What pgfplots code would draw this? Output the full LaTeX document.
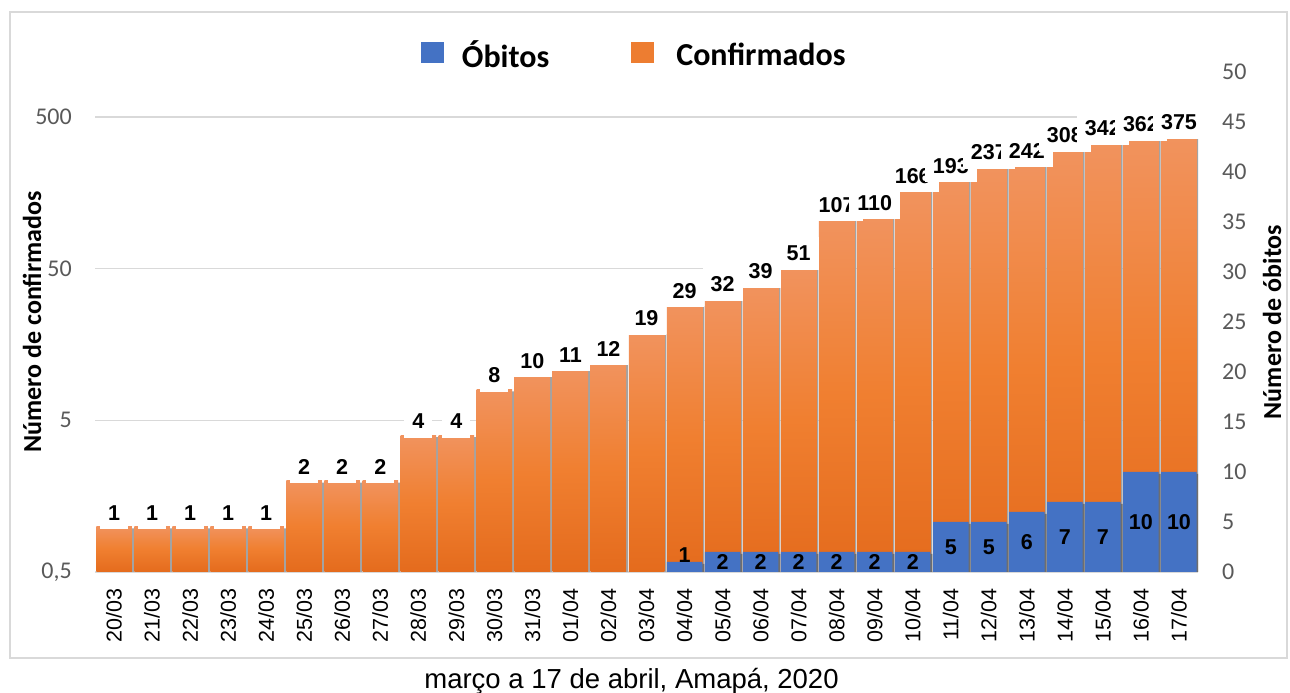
\documentclass[border=0pt]{standalone}
\usepackage{pgfplots}
\usepackage{pgfplotstable}
\pgfplotsset{compat=1.18}
\usepackage{fontspec}
\setmainfont{Liberation Sans}
\newfontfamily\carlito{Carlito}
\definecolor{obit}{HTML}{4472C4}
\definecolor{conf}{HTML}{ED7D31}
\definecolor{ctop}{HTML}{F1935E}
\definecolor{cmid}{HTML}{F07F30}
\definecolor{cbot}{HTML}{E46B1D}
\definecolor{gridc}{HTML}{D9D9D9}
\definecolor{tickc}{HTML}{595959}
\definecolor{shad}{HTML}{A3A3A3}
\definecolor{shadb}{HTML}{6E6E6E}

\pgfplotstableread{
x y lab
0 1 1
1 1 1
2 1 1
3 1 1
4 1 1
5 2 2
6 2 2
7 2 2
8 4 4
9 4 4
10 8 8
11 10 10
12 11 11
13 12 12
14 19 19
15 29 29
16 32 32
17 39 39
18 51 51
19 107 107
20 110 110
21 166 166
22 193 193
23 237 237
24 242 242
25 308 308
26 342 342
27 362 362
28 375 375
}\confdata

\pgfplotstableread{
x y lab
15 1 1
16 2 2
17 2 2
18 2 2
19 2 2
20 2 2
21 2 2
22 5 5
23 5 5
24 6 6
25 7 7
26 7 7
27 10 10
28 10 10
}\obitdata

\begin{document}
\begin{tikzpicture}
\path[use as bounding box] (0pt,0pt) rectangle (1290pt,693pt);
\draw[gridc, line width=1.5pt] (10pt,35pt) rectangle (1287pt,681pt);

\begin{axis}[
  at={(95pt,121pt)}, anchor=south west, scale only axis,
  width=1103pt, height=500pt,
  xmin=-0.5, xmax=28.5,
  y coord trafo/.code={\pgfmathparse{log10(#1/0.5)}},
  y coord inv trafo/.code={\pgfmathparse{0.5*10^(#1)}},
  ymin=0.5, ymax=988,
  ytick={0.5,5,50,500}, yticklabels={{0,5},5,50,500},
  ymajorgrids, grid style={gridc, line width=1.5pt},
  xtick={0,...,28},
  xticklabels={20/03,21/03,22/03,23/03,24/03,25/03,26/03,27/03,28/03,29/03,30/03,31/03,01/04,02/04,03/04,04/04,05/04,06/04,07/04,08/04,09/04,10/04,11/04,12/04,13/04,14/04,15/04,16/04,17/04},
  axis line style={draw=none}, major tick length=0pt,
  yticklabel style={font=\carlito\fontsize{24}{28}\selectfont, text=tickc, inner sep=0pt, xshift=-23pt},
  xticklabel style={font=\fontsize{21.5}{24}\selectfont, inner sep=0pt, yshift=-16pt, rotate=90, anchor=east},
  ylabel={Número de confirmados},
  every axis y label/.style={at={(axis description cs:-0.057,0.5)}, rotate=90, anchor=center, font=\carlito\bfseries\fontsize{26}{30}\selectfont},
]
\addplot[ybar, bar width=35.5pt, bar shift=0pt, fill=shad, draw=none, xshift=2pt, yshift=-2pt]
  table[x=x, y=y] {\confdata};
\pgfplotsinvokeforeach{0,...,28}{
  \addplot[ybar, bar width=35.5pt, bar shift=0pt, draw=none, top color=ctop, bottom color=cbot, middle color=cmid,
    x filter/.expression={abs(x-#1)<0.25 ? x : nan}]
    table[x=x, y=y] {\confdata};
}
\addplot[only marks, mark=none, draw=none,
  nodes near coords, point meta=explicit symbolic,
  nodes near coords style={font=\bfseries\fontsize{21.5}{24}\selectfont, text=black, fill=white, inner xsep=8pt, inner ysep=9pt, anchor=south, yshift=-3pt}]
  table[x=x, y=y, meta=lab] {\confdata};
\end{axis}

\begin{axis}[
  at={(95pt,121pt)}, anchor=south west, scale only axis,
  width=1103pt, height=500pt,
  xmin=-0.5, xmax=28.5,
  ymin=0, ymax=50,
  hide x axis,
  axis line style={draw=none}, major tick length=0pt,
  yticklabel pos=right,
  ytick={0,5,10,15,20,25,30,35,40,45,50},
  yticklabels={0,5,10,15,20,25,30,35,40,45,50},
  yticklabel style={font=\carlito\fontsize{24}{28}\selectfont, text=tickc, inner sep=0pt, xshift=24pt, anchor=west},
  ylabel={Número de óbitos},
  every axis y label/.style={at={(axis description cs:1.0671,0.5)}, rotate=90, anchor=center, font=\carlito\bfseries\fontsize{26}{30}\selectfont},
  legend columns=2,
  legend style={draw=none, fill=none, inner sep=0pt, at={(axis description cs:0.2953,1.034)}, anchor=west,
    font=\carlito\bfseries\fontsize{32}{36}\selectfont,
    /tikz/every even column/.append style={column sep=80pt}},
]
\addlegendimage{legend image code/.code={\fill[obit, draw=none] (0pt,-8.5pt) rectangle (23pt,13pt); \path[draw=none, fill=none] (0pt,0pt) -- (39pt,0pt);}}
\addlegendentry{Óbitos}
\addlegendimage{legend image code/.code={\fill[conf, draw=none] (0pt,-8.5pt) rectangle (23pt,13pt); \path[draw=none, fill=none] (0pt,0pt) -- (43pt,0pt);}}
\addlegendentry{Confirmados}
\addplot[ybar, bar width=35.5pt, bar shift=0pt, fill=shadb, draw=none, xshift=2pt, yshift=-2pt, forget plot]
  table[x=x, y=y] {\obitdata};
\addplot[ybar, bar width=35.5pt, bar shift=0pt, fill=obit, draw=none, forget plot,
  nodes near coords, point meta=explicit symbolic,
  visualization depends on={\thisrow{y} \as \rawy},
  nodes near coords style={font=\bfseries\fontsize{21.5}{24}\selectfont, text=black, anchor=center, inner sep=0pt,
    yshift={-5pt*\rawy + 12pt*(\rawy<1.5)}}]
  table[x=x, y=y, meta=lab] {\obitdata};
\end{axis}

\node[font=\fontsize{27.5}{30}\selectfont, anchor=base] at (631.5pt,4pt) {março a 17 de abril, Amapá, 2020};
\end{tikzpicture}
\end{document}
